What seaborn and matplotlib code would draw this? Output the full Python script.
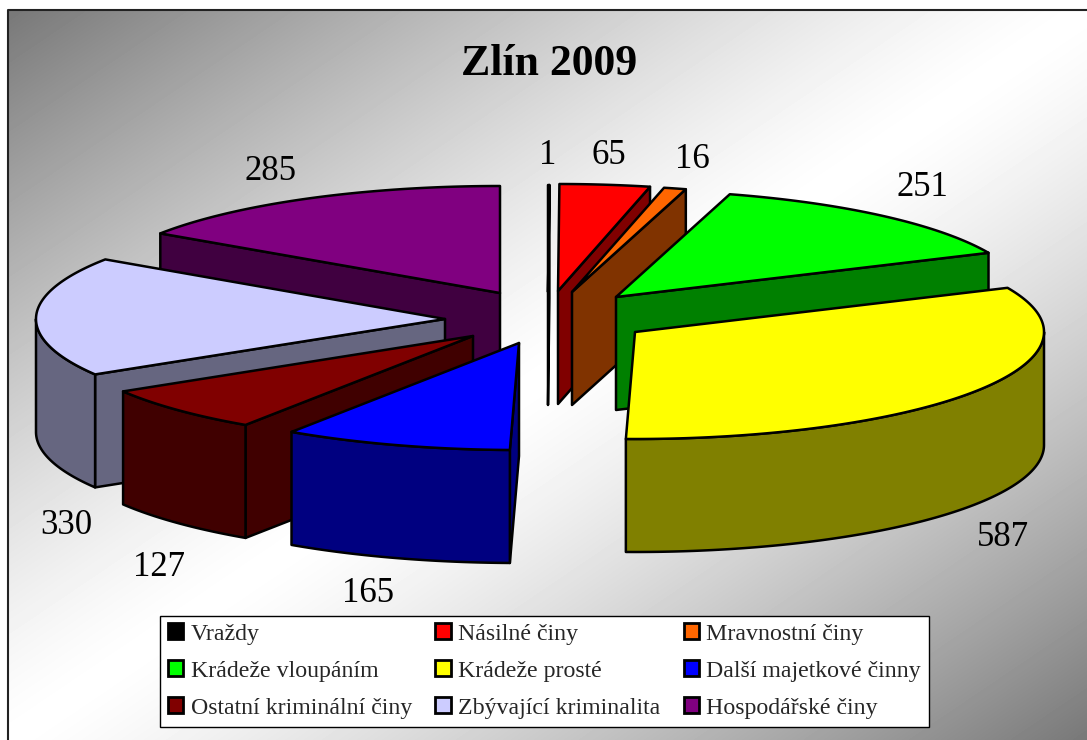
import matplotlib
matplotlib.use("Agg")
import matplotlib.pyplot as plt
from matplotlib.patches import Patch, Polygon
import seaborn as sns
import numpy as np

# pocty skutku
categories = ['Vraždy', 'Násilné činy', 'Mravnostní činy', 'Krádeže vloupáním', 'Krádeže prosté',
              'Další majetkové činny', 'Ostatní kriminální činy', 'Zbývající kriminalita', 'Hospodářské činy']
values = [1, 65, 16, 251, 587, 165, 127, 330, 285]

top_colors = ['#000000', '#ff0000', '#ff6600', '#00ff00', '#ffff00', '#0000ff', '#800000', '#ccccff', '#800080']
side_colors = ['#000000', '#800000', '#803300', '#008000', '#808000', '#000080', '#400000', '#666680', '#400040']

# poloha vrcholu kazde vysece po vysunuti (v pixelech obrazku)
apex_x = [548, 558, 572, 616, 635, 519, 473, 445, 500]
apex_y = [292, 291, 292, 297, 332, 343, 336, 319, 293]
label_x = [548, 609, 692, 922, 1003, 368, 159, 66, 270]
label_y = [155, 155, 159, 187, 538, 593, 568, 525, 171]
draw_order = [8, 7, 6, 5, 0, 1, 2, 3, 4]

RX, RY, DEPTH = 409, 107, 113
W, H = 1087, 740


def rim(cx, cy, a0, a1):
    """Body na okraji elipsy, uhel od 12 hodin po smeru hodin"""
    a = np.radians(np.linspace(a0, a1, max(int(abs(a1 - a0)) * 2, 2)))
    return np.column_stack([cx + RX * np.sin(a), cy - RY * np.cos(a)])


def draw_slice(ax, cx, cy, a0, a1, top, side):
    style = dict(edgecolor='black', linewidth=1.8, joinstyle='round')
    down = np.array([0, DEPTH])
    apex = np.array([cx, cy])
    # viditelne steny vysece
    if np.sin(np.radians(a0)) < -1e-6:
        p = rim(cx, cy, a0, a0)[0]
        ax.add_patch(Polygon([apex, p, p + down, apex + down], facecolor=side, **style))
    if np.sin(np.radians(a1)) > 1e-6:
        p = rim(cx, cy, a1, a1)[0]
        ax.add_patch(Polygon([apex, p, p + down, apex + down], facecolor=side, **style))
    # vnejsi oblouk jen pro predni polovinu
    lo, hi = max(a0, 90), min(a1, 270)
    if hi > lo:
        arc = rim(cx, cy, lo, hi)
        ax.add_patch(Polygon(np.vstack([arc, arc[::-1] + down]), facecolor=side, **style))
    ax.add_patch(Polygon(np.vstack([apex, rim(cx, cy, a0, a1)]), facecolor=top, **style))


sns.set_theme(style="white")
plt.rcParams['font.family'] = ['Liberation Serif', 'DejaVu Serif']

fig = plt.figure(figsize=(W / 100, H / 100), dpi=100)
ax = fig.add_axes([0, 0, 1, 1])
ax.set_xlim(0, W)
ax.set_ylim(H, 0)
ax.axis('off')

# pozadi - diagonalni prechod seda / bila / seda
yy, xx = np.mgrid[10:H, 8:W]
t = ((xx - 8) / (W - 8) + (yy - 10) / (H - 10)) - 1
ax.imshow(1 - 0.53 * np.abs(t) ** 1.3, cmap='gray', vmin=0, vmax=1, extent=[8, W, H, 10], aspect='auto', zorder=0)
ax.set_xlim(0, W)
ax.set_ylim(H, 0)
ax.plot([8, 8, W], [H, 10, 10], color='#222222', lw=1.5, zorder=1)

angles = np.cumsum([0] + values) / sum(values) * 360
for i in draw_order:
    draw_slice(ax, apex_x[i], apex_y[i], angles[i], angles[i + 1],
               sns.color_palette(top_colors)[i], sns.color_palette(side_colors)[i])

for i, v in enumerate(values):
    ax.text(label_x[i], label_y[i], str(v), fontsize=25, color='black', ha='center', va='center')

ax.text(549, 64, 'Zlín 2009', fontsize=31.5, fontweight='bold', color='black', ha='center', va='center')

# legenda se plni po sloupcich, v predloze jde po radcich
legend_order = [0, 3, 6, 1, 4, 7, 2, 5, 8]
handles = [Patch(facecolor=top_colors[i], edgecolor='black', linewidth=2) for i in legend_order]
labels = [categories[i] for i in legend_order]
leg = ax.legend(handles, labels, ncol=3, loc='lower left', mode='expand',
                bbox_to_anchor=(160 / W, 1 - 726.5 / H, 769 / W, 112 / H),
                fontsize=17.2, frameon=True, fancybox=False, framealpha=1, facecolor='white',
                edgecolor='black', borderaxespad=0, borderpad=0.33, labelspacing=0.65,
                handlelength=0.65, handleheight=0.65, handletextpad=0.3, columnspacing=0.2)
leg.get_frame().set_linewidth(1)

fig.savefig('out.png', dpi=100)
plt.close()
